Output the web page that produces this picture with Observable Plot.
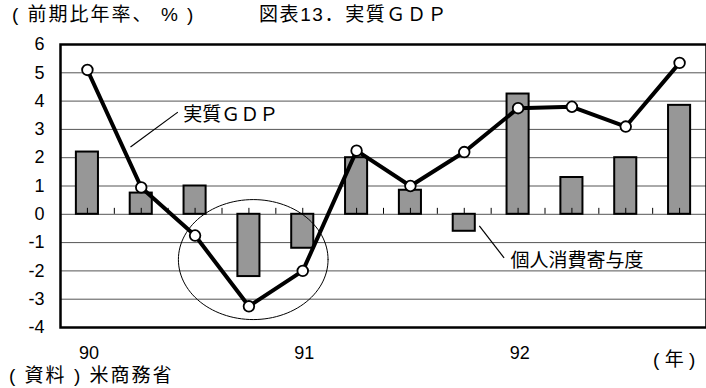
<!DOCTYPE html>
<html><head><meta charset="utf-8">
<script src="https://cdn.jsdelivr.net/npm/d3@7"></script>
<script src="https://cdn.jsdelivr.net/npm/@observablehq/plot@0.6"></script>
<style>
body{margin:0;background:#fff;}
#wrap{position:relative;width:706px;height:388px;overflow:hidden;font-family:"Liberation Sans","Noto Sans CJK JP",sans-serif;color:#000;background:#fff;}
.t{position:absolute;font-size:19px;white-space:pre;line-height:20px;}
#chart{position:absolute;top:30px;left:0;}
#chart g[aria-label="jp-label"] text{letter-spacing:1.8px;}
#chart g[aria-label="unit-label"] text{letter-spacing:2px;}
</style></head>
<body>
<div id="wrap">
  <div class="t" style="left:12px;top:5px;letter-spacing:2px;">( 前期比年率、 % )</div>
  <div class="t" style="left:259px;top:5px;letter-spacing:1.6px;">図表13．実質ＧＤＰ</div>
  <div id="chart"></div>
  <div class="t" style="left:9px;top:366px;letter-spacing:2px;">( 資料 ) 米商務省</div>
</div>
<script>
// quarters 1990Q1 .. 1992Q4
const quarters = ["90Q1","90Q2","90Q3","90Q4","91Q1","91Q2","91Q3","91Q4","92Q1","92Q2","92Q3","92Q4"];
// 個人消費寄与度 (bars)
const consumption = [2.2, 0.75, 1.0, -2.2, -1.2, 2.0, 0.85, -0.6, 4.25, 1.3, 2.0, 3.85];
// 実質GDP (line)
const gdp = [5.1, 0.95, -0.75, -3.25, -2.0, 2.25, 1.0, 2.2, 3.75, 3.8, 3.1, 5.35];
const yearLabels = ["90", "91", "92"];
const yearQuarterIndex = [0, 4, 8];
const yTicks = [-4, -3, -2, -1, 0, 1, 2, 3, 4, 5, 6];
const gridValues = [-3, -2, -1, 0, 1, 2, 3, 4, 5];
const xUnitLabel = "( 年 )";
const gdpLabel = "実質ＧＤＰ";
const consLabel = "個人消費寄与度";

const pos = i => i + 0.5;
const rows = quarters.map((q, i) => ({q, x: pos(i), c: consumption[i], g: gdp[i]}));

// annotation ellipse around the 1990-91 recession (data units)
const ell = {cx: 3.58, cy: -1.6, rx: 1.39, ry: 2.12};
const ellPts = d3.range(0, 121).map(k => {
  const a = k / 120 * 2 * Math.PI;
  return {x: ell.cx + ell.rx * Math.cos(a), y: ell.cy + ell.ry * Math.sin(a)};
});
// leader lines (data units)
const leaders = [
  {x1: 1.30, y1: 2.38, x2: 2.18, y2: 3.61},
  {x1: 7.78, y1: -0.41, x2: 8.24, y2: -1.54}
];
const labels = [
  {x: 2.28, y: 3.5, text: gdpLabel},
  {x: 8.36, y: -1.64, text: consLabel}
];
const halfTicks = d3.range(1, 24).map(k => k / 2);

const font = '"Liberation Sans","Noto Sans CJK JP",sans-serif';
const chart = Plot.plot({
  width: 706, height: 338,
  marginTop: 14, marginBottom: 41, marginLeft: 60, marginRight: 0,
  x: {domain: [0, 12], axis: null},
  y: {domain: [-4, 6], axis: null},
  style: {fontFamily: font, fontSize: "18px", background: "white", overflow: "visible", color: "#000"},
  marks: [
    Plot.ruleY(gridValues, {stroke: "#555", strokeWidth: 1}),
    Plot.rect(rows, {x1: d => d.x - 0.205, x2: d => d.x + 0.205, y1: 0, y2: "c", fill: "#979797", stroke: "#000", strokeWidth: 2}),
    Plot.ruleX(halfTicks, {x: d => d, y1: 0, y2: 0.21, stroke: "#000", strokeWidth: 1}),
    Plot.line(ellPts, {x: "x", y: "y", stroke: "#000", strokeWidth: 1}),
    Plot.link(leaders, {x1: "x1", y1: "y1", x2: "x2", y2: "y2", stroke: "#000", strokeWidth: 1.2}),
    Plot.line(rows, {x: "x", y: "g", stroke: "#000", strokeWidth: 4}),
    Plot.dot(rows, {x: "x", y: "g", r: 5.3, fill: "white", stroke: "#000", strokeWidth: 1.8}),
    Plot.text(labels, {x: "x", y: "y", text: "text", textAnchor: "start", fontSize: 19, fill: "#000", ariaLabel: "jp-label"}),
    Plot.axisY(yTicks, {tickSize: 0, tickPadding: 16, fontSize: 18, tickFormat: d => d < 0 ? "-" + Math.abs(d) : String(d), fill: "#000"}),
    Plot.text(yearQuarterIndex, {x: i => pos(i) + 0.03, y: -4, dy: 26, text: (d, k) => yearLabels[k], fontSize: 18, fill: "#000"}),
    Plot.text([xUnitLabel], {x: 11.4, y: -4, dy: 32, text: d => d, fontSize: 19, fill: "#000", ariaLabel: "unit-label"}),
    Plot.frame({stroke: "#000", strokeWidth: 2.5})
  ]
});
document.getElementById("chart").appendChild(chart);
</script>
</body></html>
